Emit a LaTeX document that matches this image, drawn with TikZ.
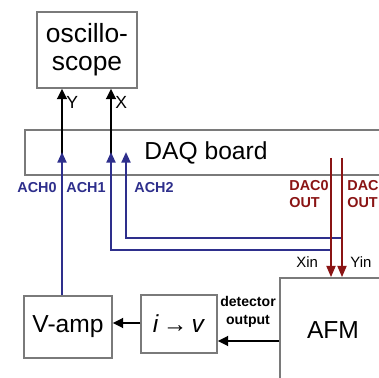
\documentclass[tikz,border=0pt]{standalone}
\usepackage{fontspec}
\setmainfont{Liberation Sans}
\usetikzlibrary{arrows.meta,positioning}
\definecolor{boxedge}{HTML}{7A7A7A}
\definecolor{chanblue}{HTML}{2E2F8C}
\definecolor{dacred}{HTML}{8A1414}
\tikzset{
  block/.style={draw=boxedge, line width=0.8pt, fill=white, align=center, inner sep=0pt, font=\fontsize{14}{15}\selectfont},
  chanlabel/.style={font=\fontsize{8.2}{9}\selectfont\bfseries, text=chanblue, inner sep=0pt},
  daclabel/.style={font=\fontsize{8.2}{10}\selectfont\bfseries, text=dacred, inner sep=0pt, align=left},
  pinlabel/.style={font=\fontsize{8.5}{9}\selectfont, inner sep=0pt},
  sigline/.style={-{Triangle[length=6pt,width=5.5pt]}, line width=1.7pt, draw=black},
  chanline/.style={-{Triangle[length=6pt,width=5pt]}, line width=1.3pt, draw=chanblue},
  dacline/.style={-{Triangle[length=6.5pt,width=5pt]}, line width=1.4pt, draw=dacred},
}
\begin{document}
\begin{tikzpicture}[x=0.02cm,y=-0.02cm]
  \clip (0,0) rectangle (379,378);
  \fill[white] (0,0) rectangle (379,378);

  \node[block, minimum width=2.0cm, minimum height=1.52cm, font=\fontsize{15}{16}\selectfont] (scope) at (87,50) {oscillo-\\scope};
  \node[block, minimum width=7.24cm, minimum height=0.9cm] (daq) at (206,152.5) {DAQ board};
  \node[block, minimum width=1.76cm, minimum height=1.24cm] (vamp) at (68,327) {V-amp};
  \node[block, minimum width=1.52cm, minimum height=1.16cm] (itov) at (179,324) {\textit{i}\,{\bfseries →}\,\textit{v}};
  \node[block, minimum width=2.12cm, minimum height=2.08cm] (afm) at (333,330) {AFM};

  \coordinate (ach0) at (62,152);
  \coordinate (ach1) at (111,152);
  \coordinate (ach2) at (126,152);
  \coordinate (dac0) at (331,158);
  \coordinate (dac1) at (342,158);
  \coordinate (tap1) at (331,250);
  \coordinate (tap2) at (342,238);

  \draw[sigline] ([yshift=-2]ach0) -- (ach0 |- scope.south);
  \draw[sigline] ([yshift=-2]ach1) -- (ach1 |- scope.south);

  \draw[chanline] (ach0 |- vamp.north) -- (ach0);
  \draw[chanline] (tap1) -| (ach1);
  \draw[chanline] (tap2) -| (ach2);

  \draw[dacline] (dac0) -- (dac0 |- afm.north);
  \draw[dacline] (dac1) -- (dac1 |- afm.north);

  \draw[sigline] (itov.west |- 0,323) -- (vamp.east |- 0,323);
  \draw[sigline] (afm.west |- 0,341) -- (itov.east |- 0,341);

  \node[pinlabel, font=\fontsize{10}{11}\selectfont, anchor=west] (ylab) at (66,102) {Y};
  \node[pinlabel, font=\fontsize{10}{11}\selectfont, anchor=west] (xlab) at (115,102) {X};

  \node[chanlabel] (ach0lab) at (37,188) {ACH0};
  \node[chanlabel] (ach1lab) at (86,188) {ACH1};
  \node[chanlabel] (ach2lab) at (154,188) {ACH2};

  \node[daclabel, anchor=west] (dac0lab) at (289,194) {DAC0\\OUT};
  \node[daclabel, anchor=west] (dac1lab) at (347,194) {DAC\\OUT};

  \node[pinlabel, anchor=west] (xin) at (296,262) {Xin};
  \node[pinlabel, anchor=west] (yin) at (350,262) {Yin};

  \node[font=\fontsize{8}{10.5}\selectfont\bfseries, align=center, inner sep=0pt] (detout) at (248,312) {detector\\output};
\end{tikzpicture}
\end{document}
